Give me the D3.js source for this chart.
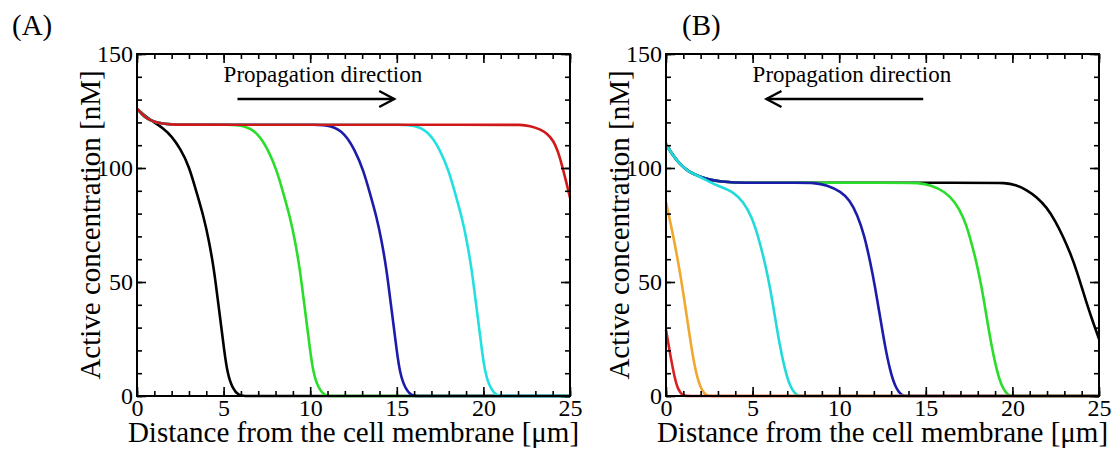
<!DOCTYPE html>
<html>
<head>
<meta charset="utf-8">
<script src="https://cdn.jsdelivr.net/npm/d3@7"></script>
<style>
  html, body { margin: 0; padding: 0; background: #fff; }
  svg { display: block; font-family: "Liberation Serif", "Times New Roman", serif; }
</style>
</head>
<body>
<svg id="chart" width="1116" height="455"></svg>
<script>
// Panel A : fronts moving away from the membrane
const curveA_black = [[0,126],[0.5,122.5],[1,120],[1.5,117.5],[2,114],[2.5,108.5],[3,101],[3.45,89],[3.85,78.6],[4.15,68.4],[4.45,55.3],[4.64,43.6],[4.84,31.9],[5.03,20.2],[5.22,10],[5.5,3.4],[5.9,0],[6.2,0],[6.8,0],[24,0],[25,0]];
const curveA_green = [[0,126],[0.3,123.5],[0.6,121.5],[1,120.2],[1.5,119.4],[2,119.1],[2.5,119],[3.2,119],[4.4,119],[5.1,119],[6.24,118.7],[7.0,115.2],[7.58,107.9],[8.07,99.1],[8.45,88.9],[8.83,78.6],[9.12,68.4],[9.41,55.3],[9.6,43.6],[9.8,31.9],[9.99,20.2],[10.18,10],[10.47,3.4],[10.85,0],[11.15,0],[11.75,0],[24,0],[25,0]];
const curveA_blue = [[0,126],[0.3,123.5],[0.6,121.5],[1,120.2],[1.5,119.4],[2,119.1],[2.5,119],[3.2,119],[9.4,119],[10.1,119],[11.24,118.7],[12.0,115.2],[12.58,107.9],[13.07,99.1],[13.45,88.9],[13.83,78.6],[14.12,68.4],[14.41,55.3],[14.6,43.6],[14.8,31.9],[14.99,20.2],[15.18,10],[15.47,3.4],[15.85,0],[16.15,0],[16.75,0],[24,0],[25,0]];
const curveA_cyan = [[0,126],[0.3,123.5],[0.6,121.5],[1,120.2],[1.5,119.4],[2,119.1],[2.5,119],[3.2,119],[14.3,119],[15.0,119],[16.16,118.7],[16.92,115.2],[17.5,107.9],[17.99,99.1],[18.37,88.9],[18.75,78.6],[19.04,68.4],[19.33,55.3],[19.52,43.6],[19.72,31.9],[19.91,20.2],[20.1,10],[20.39,3.4],[20.77,0],[21.07,0],[21.67,0],[24,0],[25,0]];
const curveA_red = [[0,126],[0.3,123.5],[0.6,121.5],[1,120.2],[1.5,119.4],[2,119.1],[2.5,119],[3.2,119],[21.4,119],[22.1,119],[22.7,118.5],[23.27,117],[23.7,115],[24.04,112],[24.3,107.5],[24.52,101.7],[24.78,94],[25,87]];

// Panel B : fronts moving towards the membrane
const curveB_black = [[0,110.5],[0.4,105.5],[0.8,101.7],[1.3,98.3],[1.96,96.2],[2.5,94.8],[3.2,94],[4,93.6],[4.8,93.5],[18.8,93.5],[19.5,93.5],[20.2,92.7],[20.8,90.5],[21.4,87.3],[21.98,82.8],[22.5,76.5],[22.94,69.7],[23.35,62.5],[23.71,55.1],[24.29,40.5],[24.65,32.5],[25,25]];
const curveB_green = [[0,110.5],[0.4,105.5],[0.8,101.7],[1.3,98.3],[1.96,96.2],[2.5,94.8],[3.2,94],[4,93.6],[4.8,93.5],[13.8,93.5],[14.5,93.5],[15.3,92.6],[16.11,89.6],[16.68,85.2],[17.17,78.6],[17.55,69.9],[17.94,58.2],[18.22,47.9],[18.51,34.8],[18.8,21.6],[19.09,11.4],[19.38,4.1],[19.77,0],[20.07,0],[20.67,0],[24,0],[25,0]];
const curveB_blue = [[0,110.5],[0.4,105.5],[0.8,101.7],[1.3,98.3],[1.96,96.2],[2.5,94.8],[3.2,94],[4,93.6],[4.8,93.5],[7.8,93.5],[8.5,93.5],[9.3,92.6],[10.1,89.6],[10.6,86],[11.05,79.5],[11.45,70.5],[11.8,58.5],[12.07,47.9],[12.36,34.8],[12.65,21.6],[12.93,11.4],[13.22,4.1],[13.61,0],[13.91,0],[14.51,0],[24,0],[25,0]];
const curveB_cyan = [[0,110.5],[0.4,105.5],[0.8,101.7],[1.3,98.3],[1.96,96.2],[2.5,93.9],[3.12,91.8],[3.89,89.6],[4.46,85.2],[4.95,78.6],[5.33,69.9],[5.72,58.2],[6.0,47.9],[6.29,34.8],[6.58,21.6],[6.87,11.4],[7.16,4.1],[7.55,0],[7.85,0],[8.45,0],[24,0],[25,0]];
const curveB_orange = [[0,85],[0.4,71],[0.8,55],[1.2,35],[1.55,17],[1.8,8],[2.05,2.5],[2.35,0],[2.65,0],[3.25,0],[24,0],[25,0]];
const curveB_red = [[0,29],[0.23,18.7],[0.52,7],[0.72,2.5],[0.95,0.3],[1.15,0],[1.45,0],[2,0],[24,0],[25,0]];

const xMajorTicks = [0, 5, 10, 15, 20, 25];
const yMajorTicks = [0, 50, 100, 150];

const panels = [
    {
        label: "(A)",
        labelX: 12,
        left: 137,
        arrowDir: 1,
        series: [
            { pts: curveA_black, color: "#000000" },
            { pts: curveA_green, color: "#2add2a" },
            { pts: curveA_blue, color: "#1c1cab" },
            { pts: curveA_cyan, color: "#22e0e0" },
            { pts: curveA_red, color: "#d01818" }
        ]
    },
    {
        label: "(B)",
        labelX: 682,
        left: 666,
        arrowDir: -1,
        series: [
            { pts: curveB_black, color: "#000000" },
            { pts: curveB_green, color: "#2add2a" },
            { pts: curveB_blue, color: "#1c1cab" },
            { pts: curveB_cyan, color: "#22dada" },
            { pts: curveB_orange, color: "#f0a830" },
            { pts: curveB_red, color: "#d82020" }
        ]
    }
];

const svg = d3.select("#chart");
const plotW = 433, plotTop = 54, plotBottom = 396;

panels.forEach(p => {
    const x = d3.scaleLinear().domain([0, 25]).range([p.left, p.left + plotW]);
    const y = d3.scaleLinear().domain([0, 150]).range([plotBottom, plotTop]);
    const g = svg.append("g");

    // courbes (lissage B-spline, reste au-dessus de 0)
    const line = d3.line()
        .x(d => x(d[0]))
        .y(d => y(d[1]))
        .curve(d3.curveBasis);

    g.append("g")
        .selectAll("path")
        .data(p.series)
        .join("path")
        .attr("d", d => line(d.pts))
        .attr("fill", "none")
        .attr("stroke", d => d.color)
        .attr("stroke-width", 2.6)
        .attr("stroke-linejoin", "round");

    // axes (ticks pointing inside, on all four sides)
    const minorX = d3.range(0, 26, 1);
    const minorY = d3.range(0, 151, 10);
    const axes = [
        [d3.axisBottom(x).tickValues(xMajorTicks).tickSize(-9).tickPadding(3), `translate(0,${plotBottom})`, true],
        [d3.axisBottom(x).tickValues(minorX).tickSize(-5), `translate(0,${plotBottom})`, false],
        [d3.axisTop(x).tickValues(xMajorTicks).tickSize(-9), `translate(0,${plotTop})`, false],
        [d3.axisTop(x).tickValues(minorX).tickSize(-5), `translate(0,${plotTop})`, false],
        [d3.axisLeft(y).tickValues(yMajorTicks).tickSize(-9).tickPadding(4), `translate(${p.left},0)`, true],
        [d3.axisLeft(y).tickValues(minorY).tickSize(-5), `translate(${p.left},0)`, false],
        [d3.axisRight(y).tickValues(yMajorTicks).tickSize(-9), `translate(${p.left + plotW},0)`, false],
        [d3.axisRight(y).tickValues(minorY).tickSize(-5), `translate(${p.left + plotW},0)`, false]
    ];
    axes.forEach(([ax, tr, withLabels]) => {
        if (!withLabels) ax.tickFormat("");
        const a = g.append("g").attr("transform", tr).call(ax);
        a.attr("font-family", null);
        a.select(".domain").remove();
        a.selectAll("line").attr("stroke", "#000").attr("stroke-width", 1.6);
        a.selectAll("text")
            .attr("fill", "#000")
            .attr("font-size", 24);
    });

    g.append("rect")
        .attr("x", p.left)
        .attr("y", plotTop)
        .attr("width", plotW)
        .attr("height", plotBottom - plotTop)
        .attr("fill", "none")
        .attr("stroke", "#000")
        .attr("stroke-width", 2);

    // titres d'axes
    g.append("text")
        .attr("x", p.left + plotW / 2)
        .attr("y", 442)
        .attr("text-anchor", "middle")
        .attr("font-size", 29)
        .text("Distance from the cell membrane [μm]");

    g.append("text")
        .attr("transform", `translate(${p.left - 37},${(plotTop + plotBottom) / 2}) rotate(-90)`)
        .attr("text-anchor", "middle")
        .attr("font-size", 29)
        .text("Active concentration [nM]");

    // annotation + flèche
    g.append("text")
        .attr("x", x(5))
        .attr("y", 82)
        .attr("font-size", 23)
        .text("Propagation direction");

    const x0 = p.arrowDir > 0 ? x(5.8) : x(14.85);
    const x1 = p.arrowDir > 0 ? x(14.85) : x(5.8);
    const ay = 99;
    g.append("line")
        .attr("x1", x0).attr("y1", ay)
        .attr("x2", x1).attr("y2", ay)
        .attr("stroke", "#000").attr("stroke-width", 2.4);
    g.append("path")
        .attr("d", `M${x1 - p.arrowDir * 15},${ay - 8}L${x1},${ay}L${x1 - p.arrowDir * 15},${ay + 8}`)
        .attr("fill", "none")
        .attr("stroke", "#000")
        .attr("stroke-width", 2.4);

    svg.append("text")
        .attr("x", p.labelX)
        .attr("y", 35)
        .attr("font-size", 29)
        .text(p.label);
});
</script>
</body>
</html>
